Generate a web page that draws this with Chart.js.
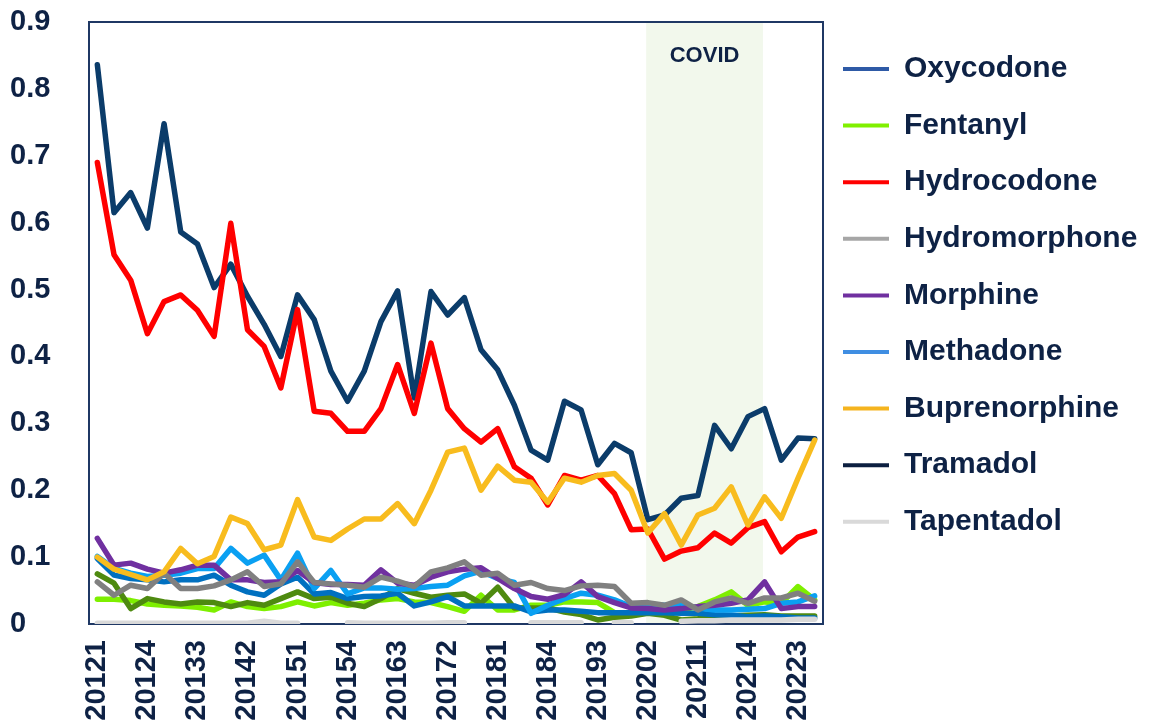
<!DOCTYPE html>
<html>
<head>
<meta charset="utf-8">
<script src="https://cdn.jsdelivr.net/npm/chart.js@4/dist/chart.umd.min.js"></script>
<style>
  html, body { margin: 0; padding: 0; background: #ffffff; }
  #wrap { width: 1163px; height: 726px; }
</style>
</head>
<body>
<div id="wrap"><canvas id="c" width="1163" height="726"></canvas></div>
<script>
// ---------- data ----------
const quarters = [];
for (let y = 2012; y <= 2022; y++) for (let q = 1; q <= 4; q++) quarters.push(String(y) + q);

const oxycodone = [0.836, 0.615, 0.645, 0.592, 0.748, 0.586, 0.568, 0.503, 0.538, 0.490, 0.448, 0.400, 0.492, 0.455, 0.378, 0.333, 0.378, 0.452, 0.498, 0.338, 0.497, 0.462, 0.488, 0.410, 0.380, 0.327, 0.260, 0.245, 0.333, 0.320, 0.238, 0.270, 0.256, 0.156, 0.163, 0.188, 0.192, 0.297, 0.262, 0.310, 0.322, 0.245, 0.278, 0.277];
const hydrocodone = [0.690, 0.552, 0.514, 0.434, 0.482, 0.492, 0.469, 0.430, 0.599, 0.440, 0.415, 0.353, 0.470, 0.318, 0.315, 0.288, 0.288, 0.322, 0.388, 0.315, 0.420, 0.322, 0.292, 0.272, 0.292, 0.235, 0.218, 0.178, 0.222, 0.215, 0.222, 0.195, 0.141, 0.142, 0.097, 0.109, 0.114, 0.136, 0.121, 0.144, 0.153, 0.108, 0.130, 0.138];
const buprenorphine = [0.100, 0.082, 0.074, 0.066, 0.078, 0.113, 0.090, 0.101, 0.160, 0.150, 0.111, 0.118, 0.186, 0.130, 0.125, 0.142, 0.157, 0.157, 0.180, 0.150, 0.200, 0.257, 0.263, 0.200, 0.236, 0.215, 0.212, 0.182, 0.218, 0.212, 0.222, 0.225, 0.200, 0.136, 0.165, 0.118, 0.163, 0.173, 0.205, 0.148, 0.190, 0.158, 0.218, 0.275];
const morphine = [0.128, 0.088, 0.091, 0.082, 0.076, 0.081, 0.088, 0.088, 0.066, 0.066, 0.062, 0.063, 0.080, 0.062, 0.059, 0.059, 0.058, 0.081, 0.061, 0.058, 0.070, 0.078, 0.082, 0.084, 0.068, 0.053, 0.041, 0.037, 0.044, 0.063, 0.041, 0.032, 0.024, 0.023, 0.021, 0.023, 0.026, 0.028, 0.031, 0.036, 0.063, 0.023, 0.026, 0.026];
const methadone = [0.101, 0.083, 0.076, 0.071, 0.073, 0.076, 0.083, 0.083, 0.113, 0.091, 0.103, 0.066, 0.106, 0.053, 0.080, 0.045, 0.054, 0.054, 0.052, 0.053, 0.056, 0.058, 0.072, 0.079, 0.068, 0.062, 0.016, 0.028, 0.038, 0.046, 0.043, 0.036, 0.026, 0.028, 0.028, 0.028, 0.024, 0.021, 0.021, 0.022, 0.023, 0.031, 0.033, 0.042];
const tramadol = [0.098, 0.073, 0.068, 0.066, 0.063, 0.066, 0.066, 0.073, 0.058, 0.048, 0.043, 0.060, 0.070, 0.045, 0.047, 0.038, 0.041, 0.042, 0.046, 0.027, 0.033, 0.041, 0.027, 0.027, 0.027, 0.027, 0.018, 0.021, 0.021, 0.019, 0.017, 0.017, 0.017, 0.017, 0.017, 0.016, 0.016, 0.014, 0.013, 0.011, 0.012, 0.011, 0.009, 0.009];
const hydromorphone = [0.063, 0.043, 0.058, 0.053, 0.076, 0.053, 0.053, 0.057, 0.066, 0.078, 0.056, 0.060, 0.093, 0.062, 0.060, 0.058, 0.055, 0.070, 0.064, 0.056, 0.078, 0.084, 0.093, 0.073, 0.076, 0.058, 0.062, 0.053, 0.050, 0.057, 0.058, 0.056, 0.031, 0.032, 0.028, 0.036, 0.021, 0.033, 0.039, 0.031, 0.039, 0.039, 0.046, 0.034];
const fentanyl = [0.037, 0.037, 0.035, 0.030, 0.028, 0.027, 0.025, 0.021, 0.033, 0.026, 0.023, 0.026, 0.033, 0.027, 0.032, 0.028, 0.031, 0.036, 0.038, 0.033, 0.032, 0.026, 0.019, 0.043, 0.021, 0.021, 0.028, 0.028, 0.033, 0.033, 0.032, 0.017, 0.017, 0.021, 0.023, 0.021, 0.026, 0.036, 0.048, 0.028, 0.033, 0.031, 0.056, 0.036];
const otherSeries = [0.075, 0.061, 0.023, 0.038, 0.033, 0.030, 0.033, 0.032, 0.026, 0.032, 0.028, 0.038, 0.048, 0.038, 0.040, 0.031, 0.026, 0.038, 0.053, 0.046, 0.040, 0.043, 0.045, 0.031, 0.055, 0.024, 0.024, 0.024, 0.018, 0.014, 0.006, 0.010, 0.012, 0.016, 0.013, 0.006, 0.008, 0.011, 0.012, 0.013, 0.014, 0.012, 0.012, 0.012];
const tapentadol = [0.001, 0.001, 0.001, 0.001, 0.001, 0.001, 0.001, 0.001, 0.001, 0.001, 0.004, 0.001, 0.001, null, null, 0.002, 0.001, 0.001, 0.001, 0.001, 0.001, 0.002, 0.002, null, null, null, 0.002, 0.002, 0.002, 0.002, null, 0.002, 0.002, null, null, 0.004, 0.005, 0.005, 0.006, 0.006, 0.006, 0.006, 0.007, 0.007];

const legendNames = ['Oxycodone', 'Fentanyl', 'Hydrocodone', 'Hydromorphone', 'Morphine', 'Methadone', 'Buprenorphine', 'Tramadol', 'Tapentadol'];
const yTicks = [0, 0.1, 0.2, 0.3, 0.4, 0.5, 0.6, 0.7, 0.8, 0.9];
const covidBand = [32.9, 39.9];   // in category-index units
const covidLabel = 'COVID';

// ---------- styles ----------
const TEXT = '#0E2245';
const FONT = '"Liberation Sans", Arial, sans-serif';
const LEG_FONT = 30, LEG_PAD = 26.6, LEG_BOX = 46, LEG_WIDTH = 250;

const seriesDefs = [
  { label: 'Oxycodone',     data: oxycodone,     color: '#0B3C6A', legend: '#2E5AA6', order: 9 },
  { label: 'Fentanyl',      data: fentanyl,      color: '#7EEF00', legend: '#80F000', order: 7 },
  { label: 'Hydrocodone',   data: hydrocodone,   color: '#FF0000', legend: '#FF0000', order: 8 },
  { label: 'Hydromorphone', data: hydromorphone, color: '#808080', legend: '#A6A6A6', order: 2 },
  { label: 'Morphine',      data: morphine,      color: '#7030A0', legend: '#7030A0', order: 3 },
  { label: 'Methadone',     data: methadone,     color: '#0AA0F2', legend: '#3F8EE2', order: 4 },
  { label: 'Buprenorphine', data: buprenorphine, color: '#F8BC1E', legend: '#F5B41E', order: 1 },
  { label: 'Tramadol',      data: tramadol,      color: '#0070C0', legend: '#0C1F40', order: 5 },
  { label: 'Tapentadol',    data: tapentadol,    color: '#D9D9D9', legend: '#D9D9D9', order: 0 },
  { label: 'Other',         data: otherSeries,   color: '#4E8A10', legend: null,      order: 6 }
];

const datasets = seriesDefs.map(s => ({
  label: s.label,
  data: s.data,
  borderColor: s.color,
  backgroundColor: s.color,
  borderWidth: 5.5,
  pointRadius: 0,
  pointHoverRadius: 0,
  tension: 0,
  spanGaps: false,
  borderJoinStyle: 'round',
  borderCapStyle: 'round',
  order: s.order
}));

// ---------- plugins ----------
const covidPlugin = {
  id: 'covidBand',
  beforeDatasetsDraw(chart) {
    const { ctx, chartArea: a, scales: { x } } = chart;
    const x0 = x.getPixelForValue(covidBand[0]);
    const x1 = x.getPixelForValue(covidBand[1]);
    ctx.save();
    ctx.fillStyle = '#F2F8EC';
    ctx.fillRect(x0, a.top, x1 - x0, a.bottom - a.top);
    ctx.fillStyle = TEXT;
    ctx.font = 'bold 22px ' + FONT;
    ctx.textAlign = 'center';
    ctx.textBaseline = 'middle';
    ctx.fillText(covidLabel, (x0 + x1) / 2, a.top + 34);
    ctx.strokeStyle = '#1F3864';
    ctx.lineWidth = 2;
    ctx.strokeRect(a.left, a.top, a.right - a.left, a.bottom - a.top);
    ctx.restore();
  }
};

const legendPlace = {
  id: 'legendPlace',
  afterLayout(chart) {
    const lg = chart.legend;
    if (!lg) return;
    const dx = (chart.chartArea.right + 20 - LEG_PAD) - lg.left;
    const dy = (chart.chartArea.top + 47 - LEG_PAD - LEG_FONT / 2) - lg.top;
    lg.left += dx; lg.top += dy; lg.bottom += dy;
    lg.right = chart.width;
    lg.width = lg.right - lg.left;
  }
};

// right padding so that the plot area ends where the reference's does
const padRight = 1163 - 823 - LEG_WIDTH;

new Chart(document.getElementById('c'), {
  type: 'line',
  data: { labels: quarters, datasets },
  plugins: [covidPlugin, legendPlace],
  options: {
    responsive: false,
    animation: false,
    events: [],
    layout: { padding: { left: 10, top: 22, right: padRight, bottom: 0 } },
    plugins: {
      tooltip: { enabled: false },
      title: { display: false },
      legend: {
        position: 'right',
        align: 'start',
        maxWidth: LEG_WIDTH,
        labels: {
          usePointStyle: true,
          pointStyleWidth: LEG_BOX,
          padding: LEG_PAD,
          color: TEXT,
          font: { family: FONT, size: LEG_FONT, weight: 'bold' },
          generateLabels(chart) {
            return seriesDefs
              .map((s, i) => ({ s, i }))
              .filter(o => o.s.legend)
              .map(o => ({
                text: o.s.label,
                fillStyle: o.s.legend,
                strokeStyle: o.s.legend,
                lineWidth: 4,
                lineCap: 'butt',
                pointStyle: 'line',
                hidden: false,
                datasetIndex: o.i,
                fontColor: TEXT
              }));
          }
        }
      }
    },
    scales: {
      x: {
        type: 'category',
        offset: true,
        grid: { display: false, drawTicks: false },
        border: { display: false },
        afterFit(scale) { scale.height = 102; },
        ticks: {
          autoSkip: false,
          minRotation: 90,
          maxRotation: 90,
          padding: 16,
          color: TEXT,
          font: { family: FONT, size: 29, weight: 'bold' },
          callback(value, index) { return index % 3 === 0 ? quarters[index] : ''; }
        }
      },
      y: {
        min: 0,
        max: 0.9,
        grid: { display: false, drawTicks: false },
        border: { display: false },
        afterFit(scale) { scale.width = 79; },
        afterBuildTicks(scale) { scale.ticks = yTicks.map(v => ({ value: v })); },
        ticks: {
          crossAlign: 'far',
          padding: 0,
          color: TEXT,
          font: { family: FONT, size: 29, weight: 'bold' },
          callback(value) { return value === 0 ? '0' : Number(value).toFixed(1); }
        }
      }
    }
  }
});
</script>
</body>
</html>
